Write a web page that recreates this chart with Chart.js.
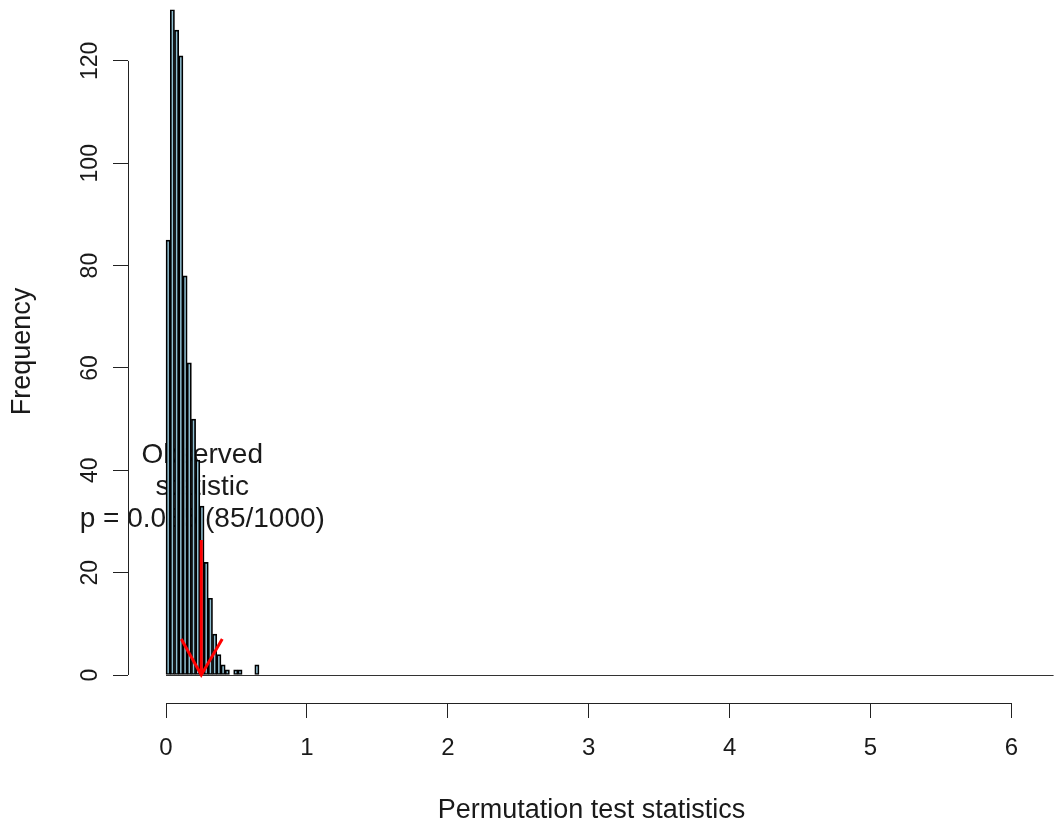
<!DOCTYPE html>
<html>
<head>
<meta charset="utf-8">
<script src="https://cdn.jsdelivr.net/npm/chart.js@4.4.1/dist/chart.umd.min.js"></script>
<style>
  html, body { margin: 0; padding: 0; background: #ffffff; }
  #wrap { width: 1055px; height: 829px; }
</style>
</head>
<body>
<div id="wrap"><canvas id="histChart" width="1055" height="829"></canvas></div>
<script>
// Histogram of permutation statistics (bins of 0.03 starting at 0)
const binStart = 0;
const binWidth = 0.03;
const binCounts = [85, 130, 126, 121, 78, 61, 50, 42, 33, 22, 15, 8, 4, 2, 1, 0, 1, 1, 0, 0, 0, 2];
const histEnd = 6.3; // last break of the histogram (empty bins up to here)

const xTickValues = [0, 1, 2, 3, 4, 5, 6];
const yTickValues = [0, 20, 40, 60, 80, 100, 120];

const observedStat = 0.25;
const annotationLines = ["Observed", "statistic", "p = 0.085 (85/1000)"];

const textColor = "#1a1a1a";
const fontFamily = "'Liberation Sans', Arial, sans-serif";

const histData = binCounts.map((c, i) => ({ x: binStart + (i + 0.5) * binWidth, y: c }));

// draws the R-style pieces: detached axis lines, rotated y labels, arrow, text
const rStyle = {
  id: "rStyle",
  beforeDatasetsDraw(chart) {
    const ctx = chart.ctx;
    const x = chart.scales.x;
    const y = chart.scales.y;
    ctx.save();
    ctx.fillStyle = textColor;
    ctx.font = "28px " + fontFamily;
    ctx.textAlign = "center";
    ctx.textBaseline = "middle";
    const cx = x.getPixelForValue(observedStat);
    const cy = y.getPixelForValue(36.7);
    annotationLines.forEach((line, i) => {
      ctx.fillText(line, cx + 1, cy + (i - 1) * 32);
    });
    ctx.restore();
  },
  afterDatasetsDraw(chart) {
    const ctx = chart.ctx;
    const x = chart.scales.x;
    const y = chart.scales.y;
    ctx.save();
    // outline of the empty bins along zero
    ctx.strokeStyle = "#333333";
    ctx.lineWidth = 1.2;
    ctx.beginPath();
    ctx.moveTo(x.getPixelForValue(binStart), Math.round(y.getPixelForValue(0)) + 0.5);
    ctx.lineTo(x.getPixelForValue(histEnd), Math.round(y.getPixelForValue(0)) + 0.5);
    ctx.stroke();

    // red arrow pointing at the observed statistic
    const ax = x.getPixelForValue(observedStat);
    const top = y.getPixelForValue(26.4);
    const tip = y.getPixelForValue(0);
    ctx.strokeStyle = "#ff0000";
    ctx.lineWidth = 3;
    ctx.beginPath();
    ctx.moveTo(ax, top);
    ctx.lineTo(ax, tip);
    ctx.moveTo(ax - 20, tip - 36);
    ctx.lineTo(ax, tip);
    ctx.lineTo(ax + 21, tip - 36);
    ctx.stroke();
    ctx.restore();
  },
  afterDraw(chart) {
    const ctx = chart.ctx;
    const x = chart.scales.x;
    const y = chart.scales.y;
    const area = chart.chartArea;
    ctx.save();
    ctx.strokeStyle = "#222222";
    ctx.lineWidth = 1;
    ctx.beginPath();
    const ax = Math.round(area.bottom) + 0.5;
    ctx.moveTo(x.getPixelForValue(xTickValues[0]), ax);
    ctx.lineTo(x.getPixelForValue(xTickValues[xTickValues.length - 1]), ax);
    const ay = Math.round(area.left) + 0.5;
    ctx.moveTo(ay, y.getPixelForValue(yTickValues[0]));
    ctx.lineTo(ay, y.getPixelForValue(yTickValues[yTickValues.length - 1]));
    ctx.stroke();

    // y tick labels, parallel to the axis
    ctx.fillStyle = textColor;
    ctx.font = "23px " + fontFamily;
    ctx.textAlign = "center";
    ctx.textBaseline = "middle";
    yTickValues.forEach((v) => {
      ctx.save();
      ctx.translate(area.left - 37, y.getPixelForValue(v));
      ctx.rotate(-Math.PI / 2);
      ctx.fillText(String(v), 0, 0);
      ctx.restore();
    });
    ctx.restore();
  },
};

new Chart(document.getElementById("histChart"), {
  type: "bar",
  data: {
    datasets: [
      {
        data: histData,
        backgroundColor: "#8fbfd2",
        borderColor: "#000000",
        borderWidth: 1.7,
        borderSkipped: false,
        barPercentage: 1,
        categoryPercentage: 1,
      },
    ],
  },
  options: {
    responsive: false,
    animation: false,
    events: [],
    layout: { padding: 0 },
    plugins: {
      legend: { display: false },
      tooltip: { enabled: false },
    },
    scales: {
      x: {
        type: "linear",
        offset: false,
        min: -0.27,
        max: 6.31,
        afterBuildTicks: (axis) => {
          axis.ticks = xTickValues.map((v) => ({ value: v }));
        },
        afterFit: (axis) => {
          axis.height = 126;
        },
        border: { display: false },
        grid: {
          offset: false,
          drawOnChartArea: false,
          drawTicks: true,
          tickLength: 15,
          color: "#222222",
        },
        ticks: {
          color: textColor,
          font: { family: fontFamily, size: 24 },
          padding: 16,
          maxRotation: 0,
          autoSkip: false,
        },
        title: {
          display: true,
          text: "Permutation test statistics",
          color: textColor,
          font: { family: fontFamily, size: 27 },
          padding: { top: 0, bottom: 2 },
        },
      },
      y: {
        type: "linear",
        min: -5.47,
        max: 131.9,
        afterBuildTicks: (axis) => {
          axis.ticks = yTickValues.map((v) => ({ value: v }));
        },
        afterFit: (axis) => {
          axis.width = 128;
        },
        border: { display: false },
        grid: {
          drawOnChartArea: false,
          drawTicks: true,
          tickLength: 15,
          color: "#222222",
        },
        ticks: { display: false },
        title: {
          display: true,
          text: "Frequency",
          color: textColor,
          font: { family: fontFamily, size: 27 },
          padding: { top: 6, bottom: 0 },
        },
      },
    },
  },
  plugins: [rStyle],
});
</script>
</body>
</html>
